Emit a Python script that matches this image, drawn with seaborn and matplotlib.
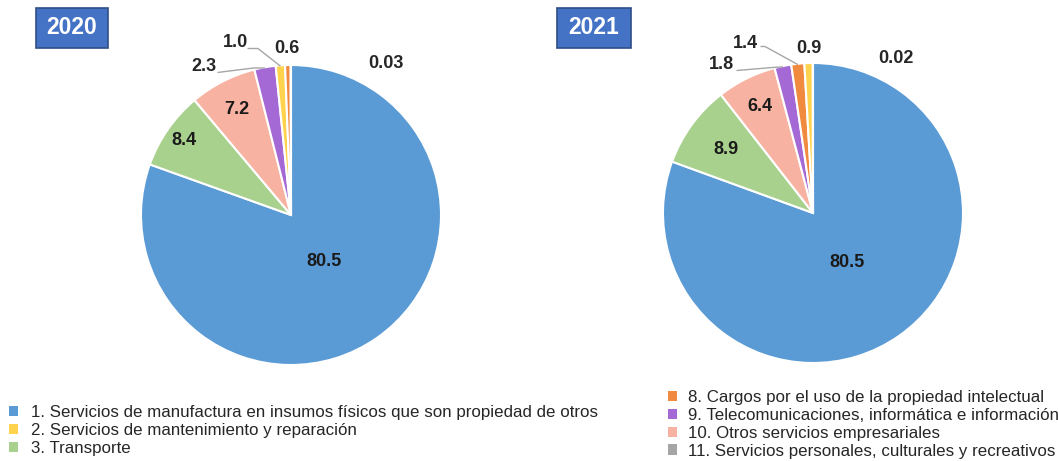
import matplotlib
matplotlib.use("Agg")
import matplotlib.pyplot as plt
import seaborn as sns
import numpy as np
from matplotlib.patches import Patch, Rectangle
from matplotlib import font_manager

# ---------------- data ----------------
categories = [
    "1. Servicios de manufactura en insumos físicos que son propiedad de otros",
    "2. Servicios de mantenimiento y reparación",
    "3. Transporte",
    "8. Cargos por el uso de la propiedad intelectual",
    "9. Telecomunicaciones, informática e información",
    "10. Otros servicios empresariales",
    "11. Servicios personales, culturales y recreativos",
]
values_2020 = [80.5, 1.0, 8.4, 0.6, 2.3, 7.2, 0.03]
labels_2020 = ["80.5", "1.0", "8.4", "0.6", "2.3", "7.2", "0.03"]
values_2021 = [80.5, 0.9, 8.9, 1.4, 1.8, 6.4, 0.02]
labels_2021 = ["80.5", "0.9", "8.9", "1.4", "1.8", "6.4", "0.02"]
years = ["2020", "2021"]
legend_left_idx = [0, 1, 2]
legend_right_idx = [3, 4, 5, 6]

# ---------------- style ----------------
sns.set_theme(style="white")
available = {f.name for f in font_manager.fontManager.ttflist}
LEG_FONT = "Liberation Sans Narrow" if "Liberation Sans Narrow" in available else "Liberation Sans"
LEG_SIZE = 15.5 if LEG_FONT == "Liberation Sans Narrow" else 12.2
plt.rcParams["font.family"] = ["Liberation Sans", "DejaVu Sans"]

palette = sns.color_palette(["#5B9BD5", "#FFD34E", "#A9D18E", "#F08A3E",
                             "#A569D6", "#F7B2A1", "#A5A5A5"])

W, H = 1058, 461
fig = plt.figure(figsize=(W / 100, H / 100), dpi=100)
fig.patch.set_facecolor("white")

def fx(px):
    return px / W

def fy(py):
    return 1 - py / H

R_PX = 150
pie_centers = {"2020": (291, 215), "2021": (813, 213)}

# label layout: ('in', radius) or ('out', (x, y), leader_points or None)
layout = {
    "2020": {
        0: ("in", 0.38), 2: ("in", 0.87), 5: ("in", 0.79),
        4: ("out", (-0.58, 0.99), [(-0.49, 0.95), (-0.25, 0.98)]),
        1: ("out", (-0.37, 1.15), [(-0.29, 1.11), (-0.22, 1.11)]),
        3: ("out", (-0.03, 1.11), None),
        6: ("out", (0.63, 1.01), None),
    },
    "2021": {
        0: ("in", 0.40), 2: ("in", 0.72), 5: ("in", 0.79),
        4: ("out", (-0.61, 0.99), [(-0.51, 0.95), (-0.27, 0.97)]),
        3: ("out", (-0.45, 1.13), [(-0.35, 1.11), (-0.32, 1.11)]),
        1: ("out", (-0.03, 1.10), None),
        6: ("out", (0.55, 1.03), None),
    },
}

data = {"2020": (values_2020, labels_2020), "2021": (values_2021, labels_2021)}

for yr in years:
    vals, labs = data[yr]
    vals = np.asarray(vals, dtype=float)
    order = np.argsort(-vals, kind="stable")
    cx, cy = pie_centers[yr]
    ax = fig.add_axes([fx(cx - R_PX), fy(cy + R_PX), 2 * R_PX / W, 2 * R_PX / H])
    ax.pie(vals[order], colors=[palette[i] for i in order], startangle=90,
           counterclock=False, radius=1.0,
           wedgeprops=dict(edgecolor="white", linewidth=1.5))
    ax.set_xlim(-1, 1)
    ax.set_ylim(-1, 1)
    ax.set_aspect("equal")
    ax.axis("off")

    total = vals.sum()
    cum = 0.0
    mids = {}
    for i in order:
        frac = vals[i] / total
        mids[i] = np.deg2rad(90 - 360 * (cum + frac / 2))
        cum += frac

    for i, spec in layout[yr].items():
        a = mids[i]
        if spec[0] == "in":
            r = spec[1]
            x, y = r * np.cos(a), r * np.sin(a)
            ax.text(x, y, labs[i], ha="center", va="center", fontsize=13,
                    fontweight="bold", color="#1a1a1a")
        else:
            (x, y), leader = spec[1], spec[2]
            ax.text(x, y, labs[i], ha="center", va="center", fontsize=13,
                    fontweight="bold", color="#262626", clip_on=False)
            if leader is not None:
                pts = leader + [(np.cos(a) * 0.995, np.sin(a) * 0.995)]
                xs, ys = zip(*pts)
                ax.plot(xs, ys, color="#A6A6A6", lw=1.0, clip_on=False,
                        solid_capstyle="butt")

# year boxes
boxes = {"2020": (36, 8, 108, 48), "2021": (557, 8, 631, 48)}
for yr, (x0, y0, x1, y1) in boxes.items():
    fig.patches.append(Rectangle((fx(x0), fy(y1)), fx(x1 - x0), (y1 - y0) / H,
                                 transform=fig.transFigure, facecolor="#4472C4",
                                 edgecolor="#2F4F86", linewidth=1.2))
    fig.text(fx((x0 + x1) / 2), fy((y0 + y1) / 2), yr, ha="center", va="center",
             color="white", fontsize=16.5, fontweight="bold")

# legends
def make_legend(idx, anchor, pad):
    handles = [Patch(facecolor=palette[i], edgecolor="none") for i in idx]
    labels = [categories[i] for i in idx]
    fig.legend(handles, labels, loc="upper left", bbox_to_anchor=anchor,
               bbox_transform=fig.transFigure, frameon=False,
               handlelength=0.58, handleheight=0.58, handletextpad=pad,
               labelspacing=0.17, borderpad=0, borderaxespad=0,
               prop={"family": LEG_FONT, "size": LEG_SIZE}, labelcolor="#262626")

make_legend(legend_left_idx, (fx(8.5), fy(405)), 0.75)
make_legend(legend_right_idx, (fx(667.5), fy(390)), 0.62)

fig.savefig("out.png", dpi=100)
